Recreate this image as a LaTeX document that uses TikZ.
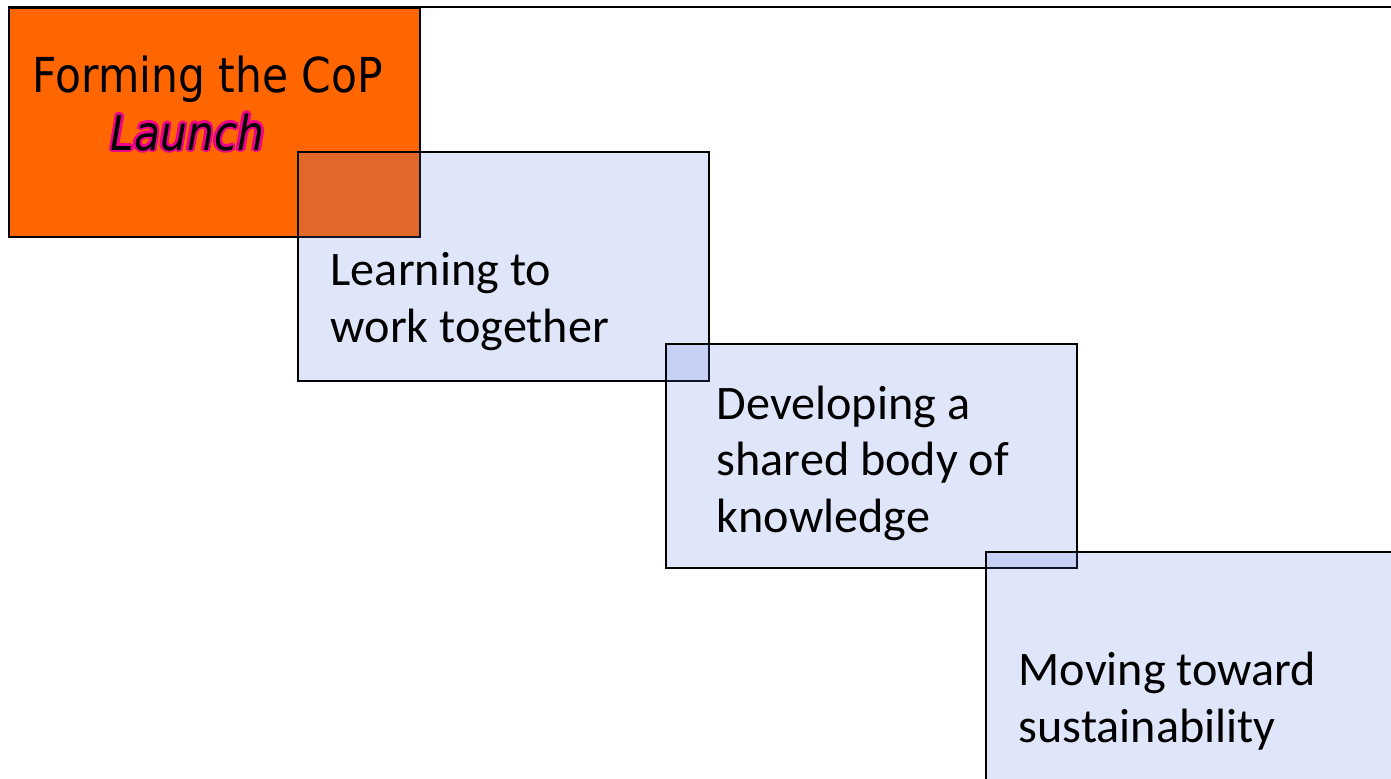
\documentclass[tikz,border=0pt]{standalone}
\usepackage{fontspec}
\setmainfont{Carlito}
\newfontfamily\tahomalike[FakeStretch=0.88]{DejaVu Sans}
\usetikzlibrary{positioning}

\definecolor{copOrange}{HTML}{FF6600}
\definecolor{stageBlue}{RGB}{85,114,227}

% black text with a thin magenta rim
\newcommand{\magentarim}[1]{\leavevmode
  \rlap{\kern-0.75pt\textcolor{magenta}{#1}}%
  \rlap{\kern0.75pt\textcolor{magenta}{#1}}%
  \rlap{\raisebox{0.75pt}{\textcolor{magenta}{#1}}}%
  \rlap{\raisebox{-0.75pt}{\textcolor{magenta}{#1}}}%
  \rlap{\kern0.55pt\raisebox{0.55pt}{\textcolor{magenta}{#1}}}%
  \rlap{\kern-0.55pt\raisebox{-0.55pt}{\textcolor{magenta}{#1}}}%
  \rlap{\kern0.55pt\raisebox{-0.55pt}{\textcolor{magenta}{#1}}}%
  \rlap{\kern-0.55pt\raisebox{0.55pt}{\textcolor{magenta}{#1}}}%
  #1}

\begin{document}
\begin{tikzpicture}[x=0.01cm, y=-0.01cm,
    stage/.style={rectangle, draw, line width=0.6pt, anchor=north west,
      minimum width=4.11cm, minimum height=2.29cm, inner sep=0pt},
    bluestage/.style={stage, fill=stageBlue, fill opacity=0.18, draw opacity=1},
    stagetext/.style={anchor=base west, align=left, inner sep=0pt,
      font=\fontsize{13.7}{16}\selectfont}]
      \clip (0,0) rectangle (1391,778);
      \useasboundingbox (0,0) rectangle (1391,778);

      \node[stage, fill=copOrange] (launchbox) at (8,7) {};
      \coordinate (farright) at (1400,6);
      \draw[line width=0.8pt] (launchbox.north west) -- (launchbox.north west -| farright);

      \node[anchor=base west, inner sep=0pt, font=\tahomalike\fontsize{13.7}{16}\selectfont] (forming) at (32,92) {Forming the CoP};
      \node[anchor=base west, inner sep=0pt, font=\tahomalike\itshape\fontsize{13.7}{16}\selectfont] (launch) at (110,150) {\magentarim{Launch}};

      \node[bluestage] (learnbox) at (297,151) {};
      \node[bluestage, minimum height=2.24cm] (developbox) at (665,343) {};
      \node[bluestage] (sustainbox) at (985,551) {};

      % base anchor sits on the last line
      \node[stagetext] (learning) at (330,342) {Learning to\\work together};
      \node[stagetext] (developing) at (716,532) {Developing a\\shared body of\\knowledge};
      \node[stagetext] (moving) at (1018,742) {Moving toward\\sustainability};
\end{tikzpicture}
\end{document}
